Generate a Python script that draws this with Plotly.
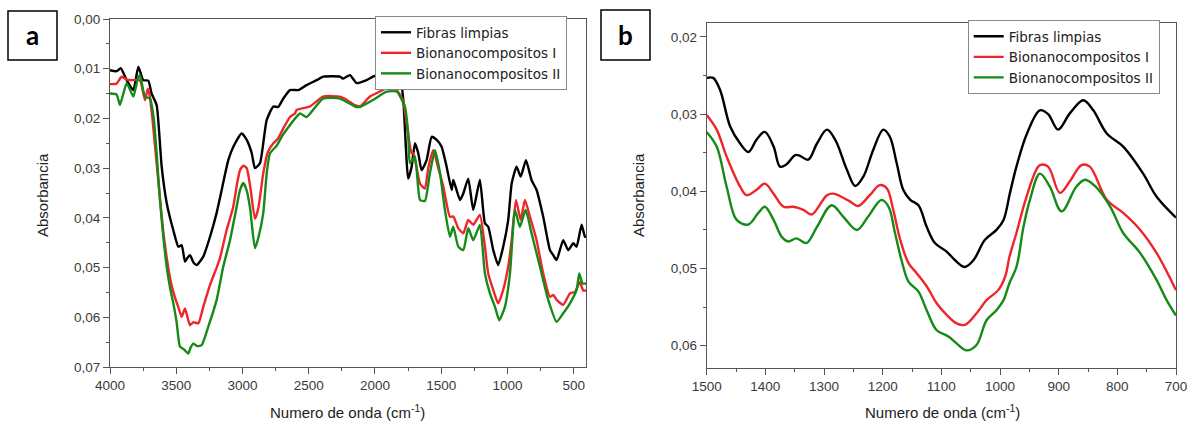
import plotly.graph_objects as go

# ---------------- Panel a data (full spectrum) ----------------
a_black_x = [4000, 3950, 3919, 3874, 3824, 3786, 3749, 3711, 3686, 3648, 3610, 3572, 3522, 3484, 3459, 3434,
             3415, 3396, 3370, 3346, 3296, 3245, 3195, 3170, 3107, 3069, 3006, 2968, 2930, 2906, 2868, 2817,
             2767, 2730, 2692, 2641, 2578, 2516, 2440, 2390, 2264, 2239, 2189, 2138, 2063, 2015, 1950, 1900,
             1850, 1815, 1786, 1749, 1723, 1698, 1673, 1648, 1610, 1572, 1534, 1497, 1459, 1421, 1409, 1384,
             1358, 1333, 1296, 1258, 1208, 1170, 1145, 1107, 1070, 1032, 994, 968, 931, 900, 860, 818, 780,
             730, 679, 654, 629, 579, 541, 503, 478, 440, 415, 405]
a_black_y = [0.0103, 0.0105, 0.0099, 0.0123, 0.0143, 0.0096, 0.0123, 0.0124, 0.0150, 0.0173, 0.0297, 0.0370,
             0.0425, 0.0458, 0.0455, 0.0488, 0.0480, 0.0475, 0.0490, 0.0495, 0.0478, 0.0438, 0.0390, 0.0360,
             0.0284, 0.0257, 0.0230, 0.0243, 0.0270, 0.0300, 0.0290, 0.0203, 0.0176, 0.0177, 0.0160, 0.0143,
             0.0143, 0.0133, 0.0123, 0.0116, 0.0116, 0.0120, 0.0113, 0.0129, 0.0123, 0.0116, 0.0110, 0.0103,
             0.0100, 0.0108, 0.0163, 0.0321, 0.0297, 0.0250, 0.0270, 0.0304, 0.0284, 0.0237, 0.0243, 0.0257,
             0.0297, 0.0344, 0.0324, 0.0344, 0.0364, 0.0351, 0.0321, 0.0384, 0.0324, 0.0411, 0.0418, 0.0465,
             0.0495, 0.0458, 0.0404, 0.0331, 0.0297, 0.0317, 0.0284, 0.0324, 0.0344, 0.0398, 0.0465, 0.0475,
             0.0485, 0.0445, 0.0465, 0.0451, 0.0458, 0.0414, 0.0438, 0.0438]

a_red_x = [4000, 3950, 3912, 3874, 3824, 3790, 3770, 3736, 3715, 3700, 3680, 3648, 3623, 3597, 3572, 3540,
           3510, 3484, 3459, 3434, 3415, 3396, 3370, 3333, 3296, 3245, 3195, 3170, 3120, 3070, 3040, 3019,
           2994, 2968, 2940, 2906, 2880, 2843, 2808, 2767, 2730, 2692, 2641, 2604, 2591, 2491, 2392, 2264,
           2230, 2151, 2113, 2038, 1940, 1887, 1836, 1789, 1751, 1723, 1710, 1660, 1623, 1598, 1560, 1522,
           1484, 1434, 1409, 1371, 1333, 1296, 1258, 1208, 1170, 1145, 1107, 1070, 1032, 994, 968, 936, 900,
           868, 830, 780, 730, 679, 654, 629, 579, 528, 490, 453, 428, 405]
a_red_y = [0.0131, 0.0130, 0.0116, 0.0122, 0.0123, 0.0122, 0.0125, 0.0163, 0.0140, 0.0155, 0.0200, 0.0290,
           0.0360, 0.0430, 0.0480, 0.0530, 0.0560, 0.0580, 0.0599, 0.0582, 0.0600, 0.0616, 0.0610, 0.0612,
           0.0579, 0.0535, 0.0500, 0.0481, 0.0425, 0.0378, 0.0330, 0.0304, 0.0295, 0.0300, 0.0340, 0.0402,
           0.0380, 0.0310, 0.0267, 0.0250, 0.0240, 0.0220, 0.0197, 0.0190, 0.0183, 0.0176, 0.0156, 0.0156,
           0.0160, 0.0173, 0.0176, 0.0156, 0.0143, 0.0133, 0.0143, 0.0163, 0.0230, 0.0270, 0.0270, 0.0331,
           0.0341, 0.0300, 0.0264, 0.0300, 0.0337, 0.0398, 0.0397, 0.0421, 0.0431, 0.0404, 0.0414, 0.0394,
           0.0458, 0.0512, 0.0545, 0.0572, 0.0545, 0.0498, 0.0445, 0.0364, 0.0404, 0.0364, 0.0398, 0.0445,
           0.0512, 0.0559, 0.0555, 0.0565, 0.0575, 0.0552, 0.0549, 0.0529, 0.0546, 0.0546]

a_green_x = [4000, 3950, 3925, 3874, 3824, 3790, 3774, 3736, 3698, 3670, 3648, 3623, 3597, 3572, 3547, 3522,
             3497, 3472, 3440, 3409, 3390, 3371, 3340, 3308, 3258, 3195, 3145, 3094, 3044, 3020, 2994, 2968,
             2943, 2906, 2880, 2843, 2817, 2792, 2742, 2700, 2641, 2566, 2516, 2392, 2264, 2151, 2113, 2015,
             1912, 1836, 1774, 1749, 1736, 1698, 1660, 1623, 1585, 1547, 1509, 1472, 1434, 1409, 1371, 1333,
             1296, 1258, 1208, 1170, 1132, 1094, 1062, 1019, 981, 943, 906, 863, 818, 755, 692, 629, 579, 528,
             478, 458, 433, 405]
a_green_y = [0.0150, 0.0152, 0.0173, 0.0129, 0.0156, 0.0120, 0.0113, 0.0156, 0.0160, 0.0200, 0.0270, 0.0364,
             0.0440, 0.0498, 0.0540, 0.0572, 0.0610, 0.0659, 0.0665, 0.0673, 0.0660, 0.0653, 0.0658, 0.0656,
             0.0619, 0.0565, 0.0498, 0.0445, 0.0378, 0.0345, 0.0330, 0.0345, 0.0380, 0.0461, 0.0440, 0.0390,
             0.0310, 0.0270, 0.0255, 0.0235, 0.0213, 0.0190, 0.0197, 0.0160, 0.0160, 0.0176, 0.0177, 0.0163,
             0.0146, 0.0146, 0.0176, 0.0230, 0.0290, 0.0277, 0.0364, 0.0366, 0.0310, 0.0264, 0.0310, 0.0384,
             0.0438, 0.0418, 0.0458, 0.0465, 0.0421, 0.0445, 0.0414, 0.0512, 0.0552, 0.0579, 0.0606, 0.0579,
             0.0512, 0.0384, 0.0418, 0.0384, 0.0431, 0.0498, 0.0565, 0.0609, 0.0592, 0.0572, 0.0545, 0.0512,
             0.0532, 0.0532]

# ---------------- Panel b data (1500-700 cm-1) ----------------
b_black_x = [1500, 1489, 1477, 1460, 1443, 1429, 1415, 1401, 1386, 1375, 1364, 1349, 1341, 1327, 1312, 1295,
             1281, 1261, 1247, 1233, 1216, 1199, 1188, 1176, 1165, 1153, 1139, 1125, 1111, 1091, 1077, 1060,
             1045, 1026, 1006, 994, 983, 972, 954, 932, 918, 901, 881, 858, 841, 818, 790, 756, 733, 700]
b_black_y = [0.0253, 0.0253, 0.0269, 0.0316, 0.0338, 0.0349, 0.0333, 0.0323, 0.0342, 0.0368, 0.0365, 0.0353,
             0.0354, 0.0359, 0.0338, 0.0320, 0.0333, 0.0372, 0.0393, 0.0381, 0.0346, 0.0320, 0.0329, 0.0364,
             0.0398, 0.0411, 0.0418, 0.0446, 0.0467, 0.0478, 0.0489, 0.0498, 0.0489, 0.0463, 0.0450, 0.0437,
             0.0402, 0.0368, 0.0325, 0.0295, 0.0300, 0.0320, 0.0299, 0.0282, 0.0295, 0.0325, 0.0342, 0.0377,
             0.0407, 0.0434]

b_red_x = [1500, 1483, 1466, 1443, 1432, 1415, 1401, 1386, 1369, 1352, 1335, 1321, 1295, 1284, 1256, 1242,
           1222, 1205, 1193, 1182, 1170, 1156, 1142, 1125, 1108, 1091, 1074, 1060, 1040, 1023, 1003, 991,
           984, 972, 958, 940, 932, 918, 898, 881, 861, 847, 818, 790, 761, 733, 700]
b_red_y = [0.0301, 0.0320, 0.0355, 0.0394, 0.0405, 0.0398, 0.0390, 0.0403, 0.0420, 0.0420, 0.0424, 0.0430,
           0.0405, 0.0403, 0.0413, 0.0419, 0.0405, 0.0392, 0.0396, 0.0424, 0.0463, 0.0493, 0.0506, 0.0523,
           0.0545, 0.0560, 0.0571, 0.0573, 0.0558, 0.0541, 0.0528, 0.0510, 0.0485, 0.0454, 0.0415, 0.0375,
           0.0366, 0.0368, 0.0402, 0.0387, 0.0366, 0.0368, 0.0411, 0.0428, 0.0450, 0.0480, 0.0528]

b_green_x = [1500, 1483, 1466, 1449, 1429, 1412, 1401, 1386, 1372, 1361, 1347, 1330, 1312, 1287, 1267, 1244,
             1225, 1202, 1190, 1179, 1168, 1156, 1139, 1125, 1108, 1088, 1074, 1057, 1040, 1023, 1006, 994,
             984, 972, 960, 949, 932, 915, 895, 870, 855, 837, 812, 790, 761, 733, 716, 700]
b_green_y = [0.0323, 0.0342, 0.0394, 0.0437, 0.0443, 0.0428, 0.0420, 0.0437, 0.0459, 0.0465, 0.0461, 0.0467,
             0.0446, 0.0418, 0.0433, 0.0450, 0.0433, 0.0411, 0.0420, 0.0454, 0.0489, 0.0517, 0.0530, 0.0554,
             0.0580, 0.0588, 0.0597, 0.0606, 0.0599, 0.0567, 0.0554, 0.0541, 0.0519, 0.0498, 0.0446, 0.0411,
             0.0377, 0.0394, 0.0426, 0.0394, 0.0385, 0.0394, 0.0420, 0.0454, 0.0480, 0.0515, 0.0541, 0.0561]

series_names = ["Fibras limpias", "Bionanocompositos I", "Bionanocompositos II"]
series_colors = ["#000000", "#f0252b", "#158a15"]

# Tick values / labels
a_xticks = [4000, 3500, 3000, 2500, 2000, 1500, 1000, 500]
a_xtick_labels = ["4000", "3500", "3000", "2500", "2000", "1500", "1000", "500"]
a_yticks = [0.00, 0.01, 0.02, 0.03, 0.04, 0.05, 0.06, 0.07]
a_ytick_labels = ["0,00", "0,01", "0,02", "0,03", "0,04", "0,05", "0,06", "0,07"]
b_xticks = [1500, 1400, 1300, 1200, 1100, 1000, 900, 800, 700]
b_xtick_labels = ["1500", "1400", "1300", "1200", "1100", "1000", "900", "800", "700"]
b_yticks = [0.02, 0.03, 0.04, 0.05, 0.06]
b_ytick_labels = ["0,02", "0,03", "0,04", "0,05", "0,06"]

W, H = 1190, 421
FONT = "Liberation Sans, Arial, sans-serif"

fig = go.Figure()

a_data = [(a_black_x, a_black_y), (a_red_x, a_red_y), (a_green_x, a_green_y)]
b_data = [(b_black_x, b_black_y), (b_red_x, b_red_y), (b_green_x, b_green_y)]

for (xs, ys), name, col in zip(a_data, series_names, series_colors):
    fig.add_trace(go.Scatter(x=xs, y=ys, mode="lines", name=name,
                             line=dict(color=col, width=2.4, shape="spline", smoothing=0.5),
                             xaxis="x", yaxis="y", legend="legend"))
for (xs, ys), name, col in zip(b_data, series_names, series_colors):
    fig.add_trace(go.Scatter(x=xs, y=ys, mode="lines", name=name,
                             line=dict(color=col, width=2.4, shape="spline", smoothing=1.0),
                             xaxis="x2", yaxis="y2", legend="legend2"))

def px_x(p):
    return p / W

def px_y(p):
    return 1 - p / H

axis_common = dict(showline=True, linecolor="#555555", linewidth=1, mirror=True,
                   ticks="outside", ticklen=6, tickwidth=1, tickcolor="#555555",
                   showgrid=False, zeroline=False, automargin=False,
                   tickfont=dict(family=FONT, size=13.5, color="#3a3a3a"))

legend_common = dict(xanchor="left", yanchor="top",
                     bgcolor="white", bordercolor="#888888", borderwidth=1,
                     font=dict(family="DejaVu Sans, sans-serif", size=13.5, color="#222222"),
                     tracegroupgap=0, itemwidth=30)

fig.update_layout(
    width=W, height=H,
    margin=dict(l=0, r=0, t=0, b=0, autoexpand=False),
    paper_bgcolor="white", plot_bgcolor="white",
    xaxis=dict(domain=[px_x(110), px_x(586)], range=[4000, 407], anchor="y",
               tickmode="array", tickvals=a_xticks, ticktext=a_xtick_labels,
               minor=dict(ticks="outside", ticklen=3, dtick=250, tick0=0, tickcolor="#555555"),
               **axis_common),
    yaxis=dict(domain=[px_y(367), px_y(19)], range=[0.07, 0.0], anchor="x",
               tickmode="array", tickvals=a_yticks, ticktext=a_ytick_labels,
               minor=dict(ticks="outside", ticklen=3, dtick=0.005, tick0=0, tickcolor="#555555"),
               **axis_common),
    xaxis2=dict(domain=[px_x(706.7), px_x(1176)], range=[1500, 700], anchor="y2",
                tickmode="array", tickvals=b_xticks, ticktext=b_xtick_labels,
                minor=dict(ticks="outside", ticklen=3, dtick=50, tick0=0, tickcolor="#555555"),
                **axis_common),
    yaxis2=dict(domain=[px_y(367.7), px_y(22.7)], range=[0.06285, 0.01815], anchor="x2",
                tickmode="array", tickvals=b_yticks, ticktext=b_ytick_labels,
                minor=dict(ticks="outside", ticklen=3, dtick=0.005, tick0=0, tickcolor="#555555"),
                **axis_common),
    legend=dict(x=px_x(375), y=px_y(16), **legend_common),
    legend2=dict(x=px_x(967.7), y=px_y(20), **legend_common),
    showlegend=True,
)

title_font = dict(family=FONT, size=15, color="#222222")
annots = [
    dict(text="Numero de onda (cm<sup>-1</sup>)", x=px_x(347), y=px_y(411), xanchor="center", yanchor="middle"),
    dict(text="Numero de onda (cm<sup>-1</sup>)", x=px_x(942), y=px_y(411), xanchor="center", yanchor="middle"),
    dict(text="Absorbancia", x=px_x(42), y=px_y(195), xanchor="center", yanchor="middle", textangle=-90),
    dict(text="Absorbancia", x=px_x(638), y=px_y(195), xanchor="center", yanchor="middle", textangle=-90),
]
for a in annots:
    fig.add_annotation(xref="paper", yref="paper", showarrow=False, font=title_font, **a)

# panel letter boxes
for letter, (x0, x1, y0, y1) in [("a", (8, 57, 11, 60)), ("b", (601, 650, 10, 60))]:
    fig.add_shape(type="rect", xref="paper", yref="paper",
                  x0=px_x(x0), x1=px_x(x1), y0=px_y(y1), y1=px_y(y0),
                  line=dict(color="black", width=1.5), fillcolor="white")
    fig.add_annotation(xref="paper", yref="paper", showarrow=False,
                       x=px_x((x0 + x1) / 2), y=px_y((y0 + y1) / 2), xanchor="center", yanchor="middle",
                       text=f"<b>{letter}</b>", font=dict(family="Lato, Liberation Sans, sans-serif", size=26, color="black"))

fig.write_html("out.html")
